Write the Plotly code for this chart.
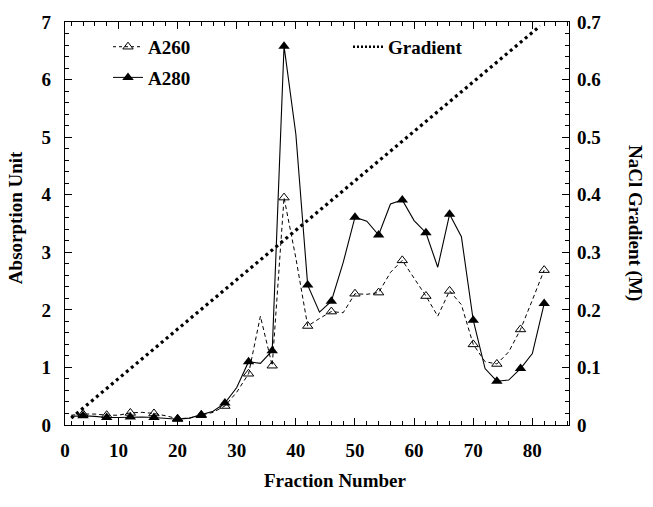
import plotly.graph_objects as go

# ---- data ----
fraction = list(range(2, 84, 2))
a280 = [0.15, 0.16, 0.15, 0.13, 0.13, 0.14, 0.14, 0.13, 0.11, 0.10,
        0.12, 0.18, 0.24, 0.38, 0.65, 1.10, 1.07, 1.29, 6.58, 5.05,
        2.43, 1.96, 2.15, 2.82, 3.61, 3.54, 3.30, 3.84, 3.91, 3.55,
        3.34, 2.74, 3.66, 3.27, 1.82, 0.98, 0.76, 0.78, 0.98, 1.24, 2.11]
a260 = [0.17, 0.19, 0.19, 0.17, 0.17, 0.21, 0.22, 0.20, 0.16, 0.11,
        0.12, 0.17, 0.22, 0.33, 0.57, 0.89, 1.89, 1.03, 3.95, 2.90,
        1.72, 1.85, 1.97, 1.95, 2.28, 2.27, 2.30, 2.65, 2.86, 2.55,
        2.24, 1.89, 2.33, 2.09, 1.40, 1.10, 1.06, 1.27, 1.66, 2.17, 2.69]
marked_fractions = [4, 8, 12, 16, 20, 24, 28, 32, 36, 38,
                    42, 46, 50, 54, 58, 62, 66, 70, 74, 78, 82]
gradient_x = [2, 81.3]
gradient_y = [0.012, 0.693]

x_ticks = [10, 20, 30, 40, 50, 60, 70, 80]
y_ticks = [0, 1, 2, 3, 4, 5, 6, 7]
y2_ticks = [0, 0.1, 0.2, 0.3, 0.4, 0.5, 0.6, 0.7]

FONT = "Liberation Serif"
TXT = dict(family=FONT, size=19, color="black", weight="bold")

idx = {f: i for i, f in enumerate(fraction)}
mx = marked_fractions
m280 = [a280[idx[f]] for f in mx]
m260 = [a260[idx[f]] for f in mx]

fig = go.Figure()

# gradient (right axis)
fig.add_trace(go.Scatter(x=gradient_x, y=gradient_y, yaxis="y2", mode="lines",
                         line=dict(color="black", width=3.2, dash="3px,3.5px"),
                         showlegend=False, hoverinfo="skip"))
# A260 line + markers
fig.add_trace(go.Scatter(x=fraction, y=a260, mode="lines",
                         line=dict(color="black", width=1, dash="4px,3px"),
                         showlegend=False))
fig.add_trace(go.Scatter(x=mx, y=m260, mode="markers",
                         marker=dict(symbol="triangle-up-open", size=9, color="black",
                                     line=dict(width=1, color="black")),
                         showlegend=False))
# A280 line + markers
fig.add_trace(go.Scatter(x=fraction, y=a280, mode="lines",
                         line=dict(color="black", width=1.1),
                         showlegend=False))
fig.add_trace(go.Scatter(x=mx, y=m280, mode="markers",
                         marker=dict(symbol="triangle-up", size=10, color="black"),
                         showlegend=False))

# legend entries
fig.add_trace(go.Scatter(x=[None], y=[None], mode="lines+markers", name="A260",
                         legendgroup="a", legend="legend",
                         line=dict(color="black", width=1, dash="3px,3px"),
                         marker=dict(symbol="triangle-up-open", size=9, color="black")))
fig.add_trace(go.Scatter(x=[None], y=[None], mode="lines+markers", name="A280",
                         legendgroup="b", legend="legend",
                         line=dict(color="black", width=1),
                         marker=dict(symbol="triangle-up", size=10, color="black")))
fig.add_trace(go.Scatter(x=[None], y=[None], yaxis="y2", mode="lines", name="Gradient",
                         legend="legend2",
                         line=dict(color="black", width=2.5, dash="2px,2px")))

L, R, T, B = 65, 84, 12, 82
W, H = 653, 507
pw, ph = W - L - R, H - T - B

def px(x):
    return (x - L) / pw

def py(y):
    return 1 - (y - T) / ph

axis_common = dict(showline=True, linecolor="black", linewidth=1.3,
                   ticks="inside", tickcolor="black", tickwidth=1, ticklen=7,
                   showgrid=False, zeroline=False, tickfont=TXT)

fig.update_layout(
    width=W, height=H,
    margin=dict(l=L, r=R, t=T, b=B),
    plot_bgcolor="white", paper_bgcolor="white",
    xaxis=dict(range=[0.95, 86.2],
               tickmode="array", tickvals=[0.95] + x_ticks,
               ticktext=["0"] + [str(v) for v in x_ticks],
               mirror="ticks", ticklabelstandoff=8,
               minor=dict(tickmode="linear", tick0=0, dtick=2, ticks="inside",
                          ticklen=4, tickcolor="black", tickwidth=1),
               **axis_common),
    yaxis=dict(range=[0, 7], tickmode="array", tickvals=y_ticks,
               ticklabelstandoff=9,
               minor=dict(tickmode="linear", tick0=0, dtick=0.2, ticks="inside",
                          ticklen=4, tickcolor="black", tickwidth=1),
               **axis_common),
    yaxis2=dict(range=[0, 0.7], overlaying="y", side="right", anchor="x",
                tickmode="array", tickvals=y2_ticks,
                ticktext=["0"] + [f"{v:.1f}" for v in y2_ticks[1:]],
                ticklabelstandoff=3,
                minor=dict(tickmode="linear", tick0=0, dtick=0.02, ticks="inside",
                           ticklen=4, tickcolor="black", tickwidth=1),
                **axis_common),
    legend=dict(x=px(108), y=py(18), xanchor="left", yanchor="top",
                bgcolor="rgba(0,0,0,0)", font=TXT, tracegroupgap=3,
                itemwidth=30),
    legend2=dict(x=px(348), y=py(18), xanchor="left", yanchor="top",
                 bgcolor="rgba(0,0,0,0)", font=TXT, itemwidth=30),
    annotations=[
        dict(text="Absorption Unit", x=px(15), y=py(213), xref="paper", yref="paper",
             xanchor="center", yanchor="middle",
             textangle=-90, showarrow=False, font=dict(TXT, size=19)),
        dict(text="NaCl Gradient (M)", x=px(635), y=py(218), xref="paper", yref="paper",
             xanchor="center", yanchor="middle",
             textangle=90, showarrow=False, font=dict(TXT, size=19)),
        dict(text="Fraction Number", x=px(335), y=py(482), xref="paper", yref="paper",
             xanchor="center", yanchor="middle",
             showarrow=False, font=dict(TXT, size=19)),
    ],
)

fig.write_html("out.html")
